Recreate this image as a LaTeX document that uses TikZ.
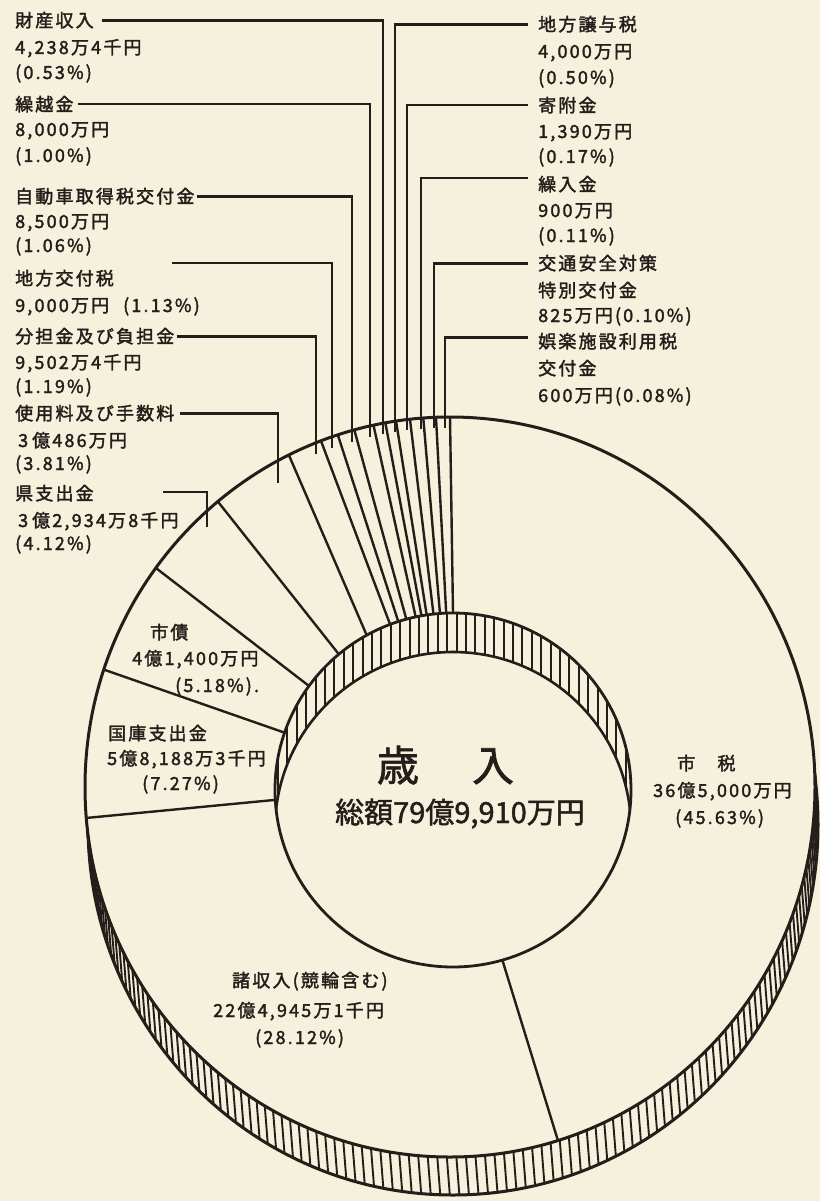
\documentclass[tikz,border=0pt]{standalone}
\usepackage{fontspec}
\setmainfont{Noto Sans CJK JP}[FakeBold=1.6]
\newfontfamily\labfont[LetterSpace=12,FakeBold=2]{Noto Sans CJK JP}
\definecolor{paper}{RGB}{246,241,221}
\definecolor{ink}{RGB}{36,30,27}
\begin{document}
\begin{tikzpicture}[x=1pt,y=-1pt,
  lab/.style={font=\labfont\fontsize{18}{22}\selectfont, text=ink, inner sep=0pt, anchor=base west},
  big/.style={font=\fontsize{42}{46}\selectfont, text=ink, inner sep=0pt, anchor=base},
  total/.style={font=\fontsize{29}{32}\selectfont, text=ink, inner sep=0pt, anchor=base},
  rim/.style={draw=ink, line width=3pt},
  hatch/.style={draw=ink, line width=1.9pt},
  sliceln/.style={draw=ink, line width=2.4pt},
  leader/.style={draw=ink, line width=2.7pt},
]
\fill[paper] (0,0) rectangle (820,1201);
\useasboundingbox (0,0) rectangle (820,1201);

% outer side wall
\foreach \t in {-16,-14.5,...,196}
  \draw[hatch] ({450+365*cos(\t)},{787+370*sin(\t)}) -- ++(3,38);
\draw[rim] (453,825) ellipse [x radius=365pt, y radius=370pt];
\filldraw[fill=paper, rim] (450,787) ellipse [x radius=365pt, y radius=370pt];

% inner wall of the hole
\begin{scope}
  \clip (453,790) ellipse [x radius=178pt, y radius=177pt];
  \foreach \x in {278,287.4,...,632}
    \draw[hatch] (\x,600) -- (\x,840);
  \filldraw[fill=paper, draw=ink, line width=2.6pt] (453,829) ellipse [x radius=178pt, y radius=177pt];
\end{scope}
\draw[rim, line width=2.8pt] (453,790) ellipse [x radius=178pt, y radius=177pt];

% slice boundaries
\foreach \a/\b in {73.9/72.8, 176.8/175.2, 198.9/198.5, 216.0/216.3, 230.1/230.5, 241/243.8,
   249.3/249.3, 252.1/252.1, 254.8/254.8, 257.9/257.9, 259.8/259.8, 261.5/261.5,
   263.7/263.7, 265.8/265.8, 267.8/267.8, 270/270}
  \draw[sliceln] ({453+178*cos(\a)},{790+177*sin(\a)}) -- ({450+365*cos(\b)},{787+370*sin(\b)});

% ---- left labels
\node[lab] (zs1) at (15,27) {財産収入};
\node[lab] (zs2) at (15,54) {4,238万4千円};
\node[lab] (zs3) at (15,79) {(0.53\%)};
\node[lab] (kk1) at (15,111) {繰越金};
\node[lab] (kk2) at (15,136) {8,000万円};
\node[lab] (kk3) at (15,162) {(1.00\%)};
\node[lab] (jd1) at (15,203) {自動車取得税交付金};
\node[lab] (jd2) at (15,228) {8,500万円};
\node[lab] (jd3) at (15,252) {(1.06\%)};
\node[lab] (kf1) at (15,285) {地方交付税};
\node[lab] (kf2) at (15,312) {9,000万円\hspace{14pt}(1.13\%)};
\node[lab] (bf1) at (15,343) {分担金及び負担金};
\node[lab] (bf2) at (15,369) {9,502万4千円};
\node[lab] (bf3) at (15,393) {(1.19\%)};
\node[lab] (sy1) at (15,420) {使用料及び手数料};
\node[lab] (sy2) at (18,447) {3\hspace{4pt}億486万円};
\node[lab] (sy3) at (15,470) {(3.81\%)};
\node[lab] (ks1) at (15,500) {県支出金};
\node[lab] (ks2) at (18,527) {3\hspace{4pt}億2,934万8千円};
\node[lab] (ks3) at (15,550) {(4.12\%)};

% ---- right labels
\node[lab] (jy1) at (538,31) {地方譲与税};
\node[lab] (jy2) at (538,58) {4,000万円};
\node[lab] (jy3) at (538,84) {(0.50\%)};
\node[lab] (kh1) at (538,112) {寄附金};
\node[lab] (kh2) at (538,138) {1,390万円};
\node[lab] (kh3) at (538,163) {(0.17\%)};
\node[lab] (kn1) at (538,191) {繰入金};
\node[lab] (kn2) at (538,217) {900万円};
\node[lab] (kn3) at (538,242) {(0.11\%)};
\node[lab] (ko1) at (538,270) {交通安全対策};
\node[lab] (ko2) at (538,297) {特別交付金};
\node[lab] (ko3) at (538,322) {825万円(0.10\%)};
\node[lab] (gr1) at (538,348) {娯楽施設利用税};
\node[lab] (gr2) at (538,375) {交付金};
\node[lab] (gr3) at (538,402) {600万円(0.08\%)};

% ---- leader ends (just past the outer rim)
\coordinate (ebf) at (316,454);
\coordinate (ekf) at (332,448);
\coordinate (ejd) at (352,442);
\coordinate (ekk) at (370,437);
\coordinate (ezs) at (383,434);
\coordinate (ejy) at (395,432);
\coordinate (ekh) at (407,430);
\coordinate (ekn) at (421,429);
\coordinate (eko) at (434,428);
\coordinate (egr) at (445,428);
\coordinate (esy) at (278,483);
\coordinate (eks) at (207,527);
\coordinate (skf) at (172,263);
\coordinate (sks) at (163,492);

\draw[leader] ([xshift=8pt]zs1.east) -| (ezs);
\draw[leader] ([xshift=4pt]kk1.east) -| (ekk);
\draw[leader] ([xshift=2pt]jd1.east) -| (ejd);
\draw[leader] (skf) -| (ekf);
\draw[leader] ([xshift=2pt]bf1.east) -| (ebf);
\draw[leader] ([xshift=5pt]sy1.east) -| (esy);
\draw[leader] (sks) -| (eks);

\draw[leader] ([xshift=-10pt]jy1.west) -| (ejy);
\draw[leader] ([xshift=-10pt]kh1.west) -| (ekh);
\draw[leader] ([xshift=-10pt,yshift=6pt]kn1.west) -| (ekn);
\draw[leader] ([xshift=-10pt]ko1.west) -| (eko);
\draw[leader] ([xshift=-10pt,yshift=4pt]gr1.west) -| (egr);

% ---- slice labels
\node[lab] (sc1) at (150,639) {市債};
\node[lab] (sc2) at (132,665) {4億1,400万円};
\node[lab] (sc3) at (175,692) {(5.18\%).};
\node[lab] (kk4) at (108,740) {国庫支出金};
\node[lab] (kk5) at (107,765) {5億8,188万3千円};
\node[lab] (kk6) at (142,790) {(7.27\%)};
\node[lab] (sz1) at (677,770) {市　税};
\node[lab] (sz2) at (653,797) {36億5,000万円};
\node[lab] (sz3) at (675,824) {(45.63\%)};
\node[lab] (ss1) at (232,987) {諸収入(競輪含む)};
\node[lab] (ss2) at (213,1017) {22億4,945万1千円};
\node[lab] (ss3) at (255,1044) {(28.12\%)};

% ---- centre
\node[big] (sai) at (398,781) {歳};
\node[big] (nyu) at (493,781) {入};
\node[total] (sogaku) at (460,823) {総額79億9,910万円};
\end{tikzpicture}
\end{document}
